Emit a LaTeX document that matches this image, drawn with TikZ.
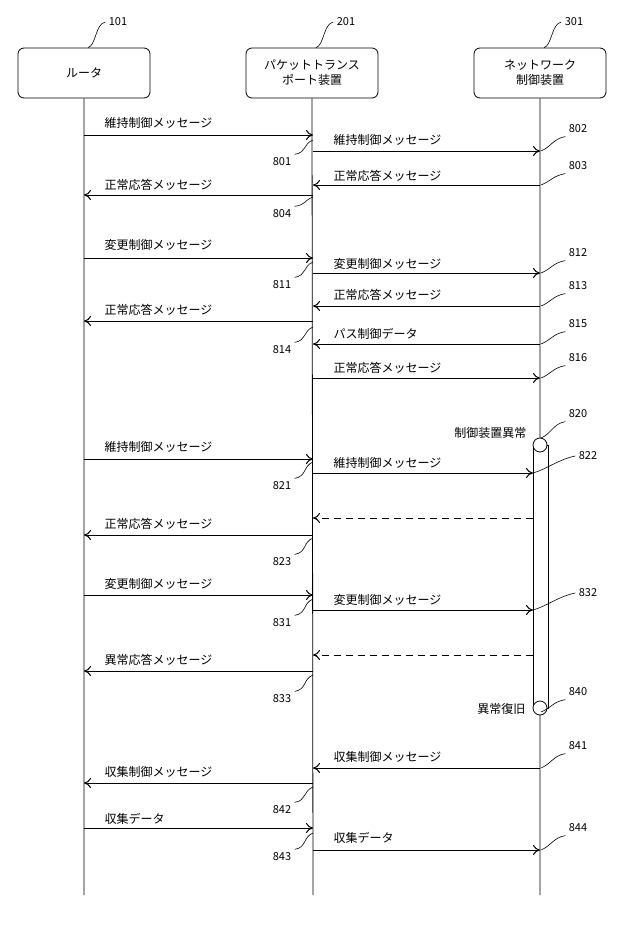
\documentclass[tikz,border=0pt]{standalone}
\usepackage{fontspec}
\setmainfont{Noto Sans CJK JP}
\usetikzlibrary{arrows.meta,calc}
\begin{document}
\begin{tikzpicture}[x=1pt,y=-1pt,
  msg/.style={line width=1pt,-{To[length=7pt,width=10pt]}},
  dmsg/.style={msg,dash pattern=on 7pt off 5pt},
  box/.style={draw,rounded corners=6pt,minimum width=132pt,minimum height=50pt,align=center,font=\fontsize{12}{15}\selectfont,line width=0.8pt},
  lbl/.style={font=\fontsize{12}{14}\selectfont,anchor=base west},
  num/.style={font=\fontsize{11}{13}\selectfont},
  sq/.style={line width=0.6pt}]
\useasboundingbox (0,0) rectangle (640,932);
\node[box] (r) at (84,73) {ルータ};
\node[box] (p) at (312,73) {パケットトランス\\ポート装置};
\node[box] (n) at (540,73) {ネットワーク\\制御装置};
\coordinate (R) at (84,0); \coordinate (P) at (313,0); \coordinate (N) at (540,0); \coordinate (B) at (533,0);
\coordinate (rend) at (84,895); \coordinate (pend) at (313,895); \coordinate (nend) at (540,895);
\draw[line width=0.8pt] (r.south) -- (rend) (p.south) -- (pend) (n.south) -- (nend);
\node[num] (l101) at (118,22) {101};
\node[num] (l201) at (346,22) {201};
\node[num] (l301) at (574,22) {301};
\foreach \a/\b in {l101/r,l201/p,l301/n}{
  \draw[sq] (\a.west) .. controls +(-10,2) and +(8,-2) .. ($(\b.north)+(4,0)$);}
\newcommand\ar[4]{\draw[msg] (#1|-0,#3) -- (#2|-0,#3);}
\newcommand\tx[3]{\node[lbl] at (#1,#2) {#3};}
\ar{R}{P}{135}{}\tx{101}{127}{維持制御メッセージ}
\ar{P}{N}{151}{}\tx{330}{144}{維持制御メッセージ}
\ar{N}{P}{185}{}\tx{330}{180}{正常応答メッセージ}
\ar{P}{R}{195}{}\tx{101}{189}{正常応答メッセージ}
\ar{R}{P}{258}{}\tx{101}{249}{変更制御メッセージ}
\ar{P}{N}{273}{}\tx{330}{268}{変更制御メッセージ}
\ar{N}{P}{306}{}\tx{330}{299}{正常応答メッセージ}
\ar{P}{R}{321}{}\tx{101}{314}{正常応答メッセージ}
\ar{N}{P}{344}{}\tx{330}{338}{パス制御データ}
\ar{P}{N}{378}{}\tx{330}{372}{正常応答メッセージ}
\draw[line width=0.8pt,fill=white] (533,445) rectangle (548,708);
\draw[line width=0.8pt,fill=white] (540,445) circle (7);
\draw[line width=0.8pt,fill=white] (540,708) circle (7);
\node[font=\fontsize{12}{14}\selectfont,anchor=base east] at (530,437) {制御装置異常};
\node[font=\fontsize{12}{14}\selectfont,anchor=base east] at (529,713) {異常復旧};
\ar{R}{P}{459}{}\tx{101}{451}{維持制御メッセージ}
\ar{P}{B}{473}{}\tx{330}{467}{維持制御メッセージ}
\draw[dmsg] (533,518) -- (P|-0,518);
\ar{P}{R}{535}{}\tx{101}{528}{正常応答メッセージ}
\ar{R}{P}{595}{}\tx{101}{588}{変更制御メッセージ}
\ar{P}{B}{610}{}\tx{330}{604}{変更制御メッセージ}
\draw[dmsg] (533,655) -- (P|-0,655);
\ar{P}{R}{671}{}\tx{101}{664}{異常応答メッセージ}
\ar{N}{P}{768}{}\tx{330}{761}{収集制御メッセージ}
\ar{P}{R}{783}{}\tx{101}{776}{収集制御メッセージ}
\ar{R}{P}{828}{}\tx{101}{823}{収集データ}
\ar{P}{N}{850}{}\tx{330}{842}{収集データ}
\foreach \k/\y/\e in {801/162/140,804/214/197,811/285/262,814/350/327,821/486/462,823/562/538,831/623/599,833/699/675,842/810/787,843/857/833}{
  \node[num] (n\k) at (282,\y) {\k};
  \draw[sq] (n\k.north east) .. controls +(12,-2) and +(-10,4) .. (313,\e);}
\foreach \k/\y/\e in {802/129/151,803/166/185,812/253/273,813/286/306,815/324/344,816/358/378,820/414/438,841/746/768,844/828/850,840/692/712}{
  \node[num] (n\k) at (578,\y) {\k};
  \draw[sq] (n\k.south west) .. controls +(-12,2) and +(10,-4) .. (541,\e);}
\foreach \k/\y/\e in {822/456/473,832/593/610}{
  \node[num] (n\k) at (588,\y) {\k};
  \draw[sq] (n\k.west) .. controls +(-16,3) and +(14,-4) .. (533,\e);}
\end{tikzpicture}
\end{document}
